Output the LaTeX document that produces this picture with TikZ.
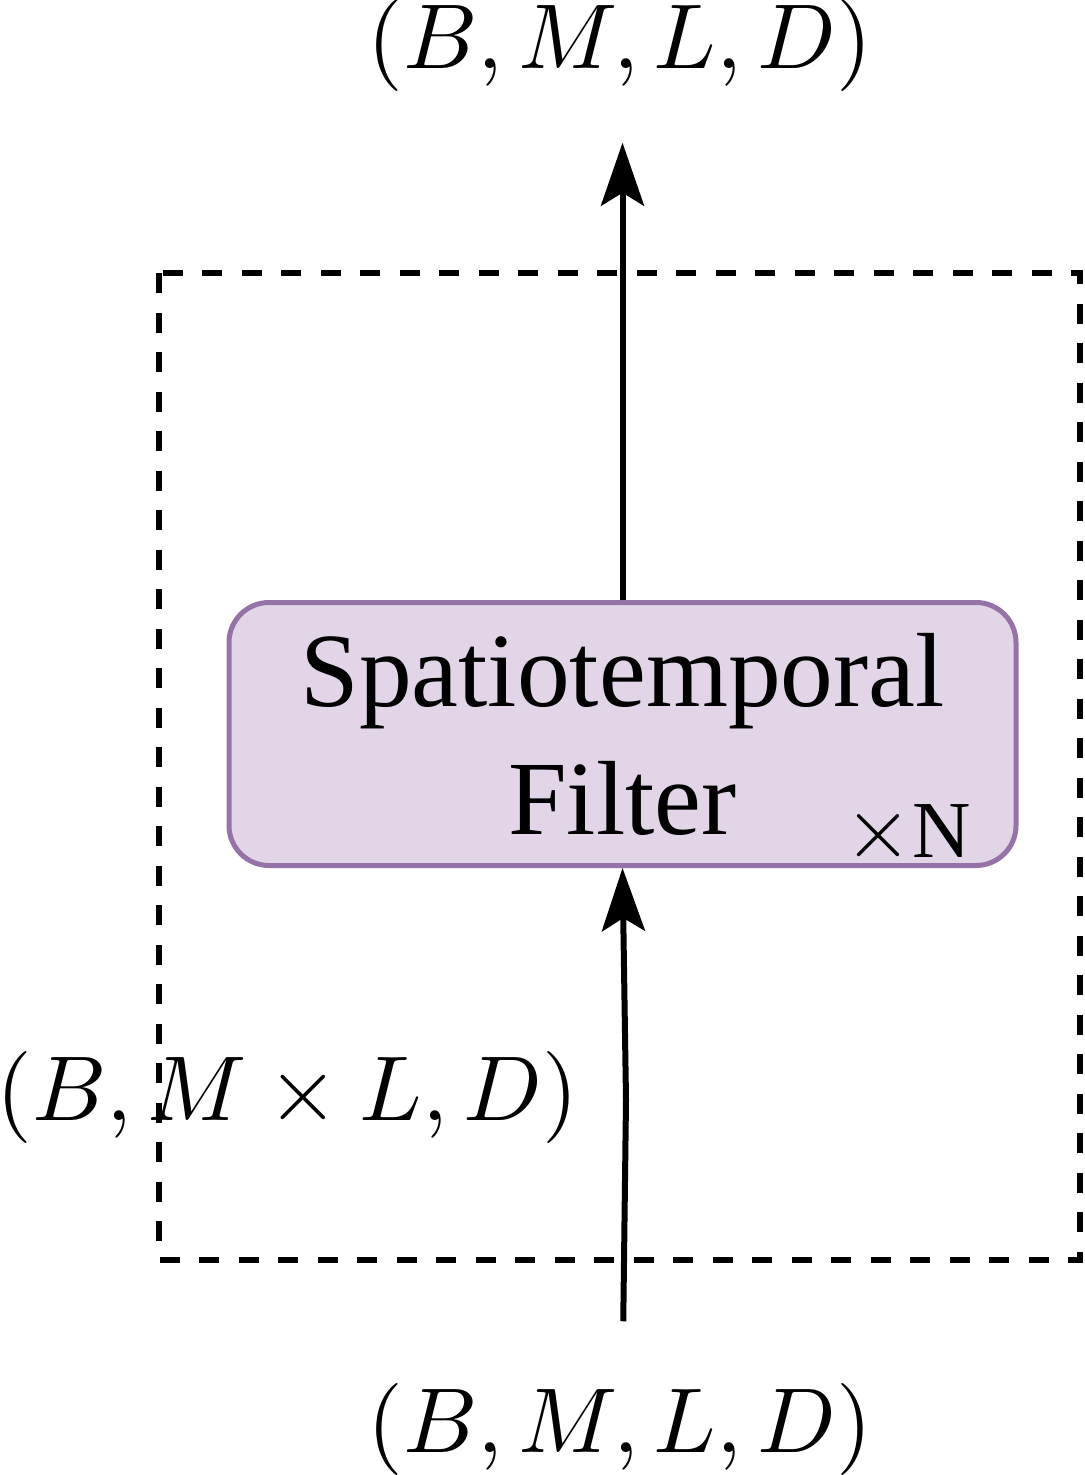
\documentclass[tikz,border=0pt]{standalone}
\usepackage[no-math]{fontspec}
\setmainfont{Liberation Serif}
\usepackage{tikz}
\usetikzlibrary{
	arrows.meta
}
\definecolor{filterfill}{HTML}{E1D5E7}
\definecolor{filterdraw}{HTML}{9673A6}
\newcommand{\dims}[1]{\scalebox{2.62}{$#1$}}
\tikzset{
	shape label/.style={
		inner sep=0pt,
		font=\fontsize{10}{12}\selectfont
	},
	filter/.style={
		draw=filterdraw,
		fill=filterfill,
		line width=0.05cm,
		rounded corners=0.4cm,
		minimum width=7.87cm,
		minimum height=2.63cm,
		inner sep=0pt,
		align=center,
		font=\fontsize{30}{36.4}\selectfont
	},
	repeat note/.style={
		inner sep=0pt,
		anchor=base east,
		font=\fontsize{23}{27}\selectfont
	},
	repeat box/.style={
		draw,
		dash pattern=on 0.2cm off 0.195cm,
		line width=0.065cm
	},
	flow/.style={
		line width=0.06cm,
		-{Stealth[length=0.63cm,width=0.43cm,inset=0.13cm]}
	}
}

\begin{document}
\begin{tikzpicture}
		\useasboundingbox (0,0) rectangle (10.84,-14.75);
		\draw[repeat box] (1.59,-2.73) rectangle (10.80,-12.60);
		\coordinate (kink) at (6.26,-11.0);
		\draw
			node[filter]                             (filter) at (6.225,-7.34) {Spatiotemporal\\Filter}
			node[repeat note]                        (times)  at (9.72,-8.57)  {$\times$N}
			node[shape label,anchor=base]            (out)    at (6.20,-0.69)  {\dims{(B, M, L, D)}}
			node[shape label,anchor=base]            (in)     at (6.20,-14.52) {\dims{(B, M, L, D)}}
			node[shape label,anchor=base west]       (merged) at (-0.04,-11.20) {\dims{(B, M \times L, D)}}
		;
		\draw[flow,shorten >=0.50cm] (filter.north) -- (filter.north |- out.south);
		\draw[flow,shorten <=0.61cm] (filter.south |- in.north) -- (kink) -- (filter.south);
	\end{tikzpicture}
\end{document}
